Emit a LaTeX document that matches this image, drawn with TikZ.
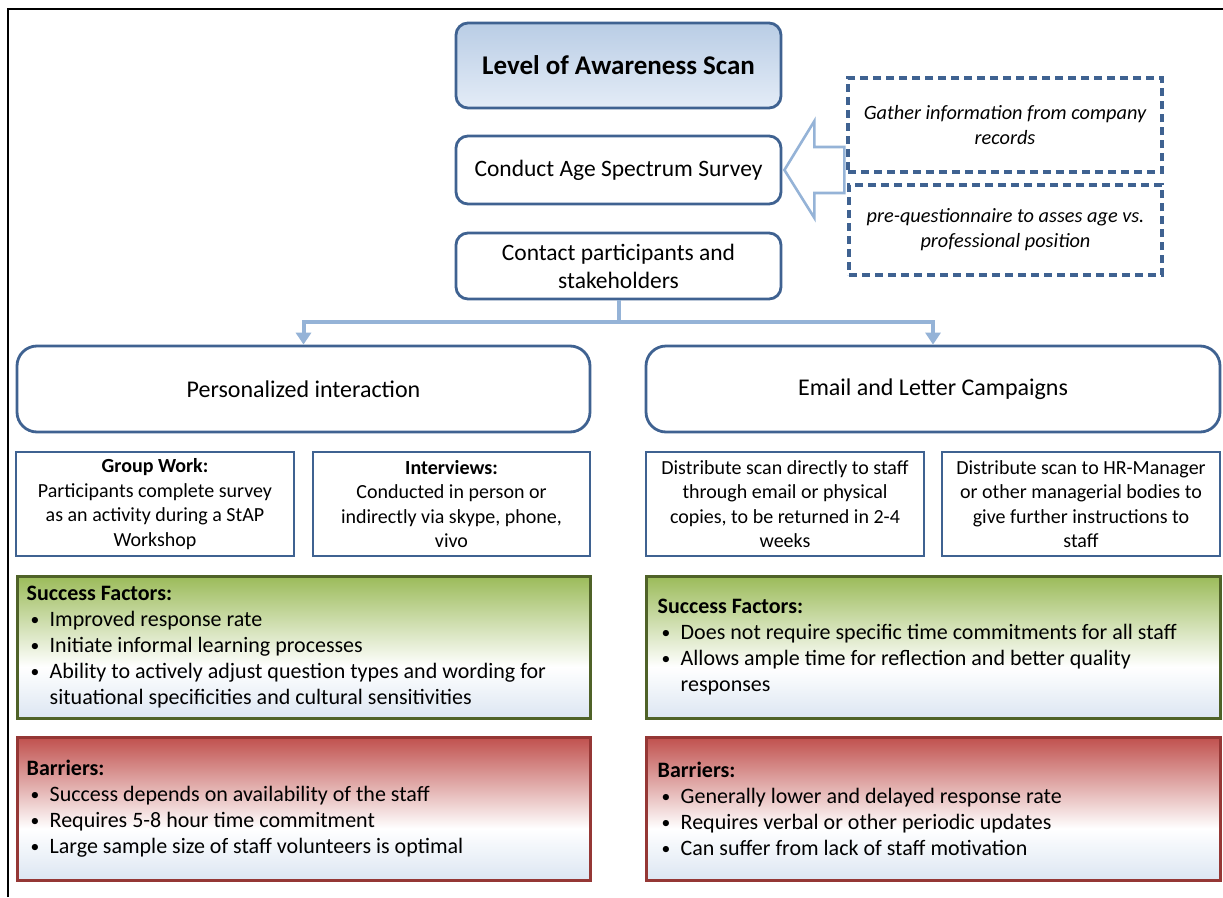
\documentclass[tikz,border=0pt]{standalone}
\usepackage{fontspec}
\setmainfont{Carlito}
\usetikzlibrary{arrows.meta,calc}

\definecolor{boxblue}{HTML}{3F6291}
\definecolor{connblue}{HTML}{95B3D7}
\definecolor{ttop}{HTML}{B9CDE5}
\definecolor{tbot}{HTML}{E4ECF7}
\definecolor{fadeblue}{HTML}{DCE6F2}
\definecolor{sfgreen}{HTML}{9BBB59}
\definecolor{sfborder}{HTML}{4F6228}
\definecolor{brred}{HTML}{C0504D}
\definecolor{brborder}{HTML}{953735}

\pgfdeclareverticalshading{titlefade}{100bp}{color(0bp)=(tbot); color(25bp)=(tbot); color(75bp)=(ttop); color(100bp)=(ttop)}
\pgfdeclareverticalshading{greenfade}{100bp}{color(0bp)=(fadeblue); color(25bp)=(fadeblue); color(43bp)=(white); color(75bp)=(sfgreen); color(100bp)=(sfgreen)}
\pgfdeclareverticalshading{redfade}{100bp}{color(0bp)=(fadeblue); color(25bp)=(fadeblue); color(43bp)=(white); color(75bp)=(brred); color(100bp)=(brred)}

\newcommand\bul[1]{\hspace*{4pt}\makebox[19pt][l]{\raisebox{0.5pt}{\scalebox{0.8}{\textbullet}}}#1}
\newcommand\cont[1]{\hspace*{23pt}#1}

\tikzset{
  base/.style={inner sep=0pt, align=center, text=black},
  stepbox/.style={base, draw=boxblue, line width=2.8pt, rounded corners=12pt, fill=white,
    minimum width=325pt, font=\fontsize{23.5}{28}\selectfont},
  titlebox/.style={stepbox, shading=titlefade, font=\fontsize{27}{32}\selectfont\bfseries},
  notebox/.style={base, draw=boxblue, line width=3.2pt, dash pattern=on 8pt off 5pt,
    fill=white, font=\fontsize{20.3}{25}\selectfont\itshape},
  branchbox/.style={base, draw=boxblue, line width=2.8pt, rounded corners=20pt, fill=white,
    minimum height=86pt, font=\fontsize{24}{28}\selectfont},
  methodbox/.style={base, draw=boxblue, line width=2.6pt, fill=white,
    minimum width=278pt, minimum height=104pt, font=\fontsize{20}{24.5}\selectfont},
  sfbox/.style={base, draw=sfborder, line width=3pt, shading=greenfade},
  brbox/.style={base, draw=brborder, line width=3pt, shading=redfade},
  listtext/.style={inner sep=0pt, align=left, anchor=west, font=\fontsize{22}{26}\selectfont},
  conn/.style={draw=connblue, line width=4pt, -{Triangle[length=12pt,width=15pt]}},
  hollow/.style={draw=connblue, line width=2.6pt, fill=white, line join=miter}
}

\begin{document}
\begin{tikzpicture}[x=1pt, y=-1pt]
  \useasboundingbox (0,0) rectangle (1223,897);
  \fill[white] (0,0) rectangle (1223,897);

  % page frame
  \draw[line width=2.6pt, line join=miter] (8,897) -- (8,9) -- (1223,9);

  % central column
  \node[titlebox, minimum height=85pt] (scan) at (618.5,65.5) {Level of Awareness Scan};
  \node[stepbox, minimum height=68pt] (survey) at (618.5,170) {Conduct Age Spectrum Survey};
  \node[stepbox, minimum height=66pt] (contact) at (618.5,266) {Contact participants and\\stakeholders};

  % input notes
  \node[notebox, minimum width=314pt, minimum height=94pt] (records) at (1005,125)
    {Gather information from company\\records};
  \node[notebox, minimum width=313pt, minimum height=90pt] (prequest) at (1005.5,230)
    {pre-questionnaire to asses age vs.\\professional position};

  % hollow block arrow into the survey step
  \draw[hollow] ($(survey.east)+(2,0)$) -- ++(30,-49) -- ++(0,26) -- ++(30,0)
    -- ++(0,46) -- ++(-30,0) -- ++(0,25) -- cycle;

  % two approaches
  \node[branchbox, minimum width=573pt] (pers) at (303.5,389) {Personalized interaction};
  \node[branchbox, minimum width=574pt] (email) at (933,389) {Email and Letter Campaigns};

  \coordinate (split) at (618.5,322);
  \draw[draw=connblue, line width=4pt] (contact.south) -- (split);
  \draw[conn] (split) -| (pers.north);
  \draw[conn] (split) -| (email.north);

  % methods
  \node[methodbox] (group) at (155,504)
    {\textbf{Group Work:}\\Participants complete survey\\as an activity during a StAP\\Workshop};
  \node[methodbox, minimum width=277pt] (interv) at (451.5,504)
    {\textbf{Interviews:}\\Conducted in person or\\indirectly via skype, phone,\\vivo};
  \node[methodbox] (dist1) at (785,504)
    {Distribute scan directly to staff\\through email or physical\\copies, to be returned in 2-4\\weeks};
  \node[methodbox] (dist2) at (1081,504)
    {Distribute scan to HR-Manager\\or other managerial bodies to\\give further instructions to\\staff};

  % success factors
  \node[sfbox, minimum width=573pt, minimum height=142pt] (sfl) at (303.5,647) {};
  \node[listtext] (sfltxt) at ($(sfl.west)+(11,0)$)
    {\textbf{Success Factors:}\\
     \bul{Improved response rate}\\
     \bul{Initiate informal learning processes}\\
     \bul{Ability to actively adjust question types and wording for}\\
     \cont{situational specificities and cultural sensitivities}};
  \node[sfbox, minimum width=574pt, minimum height=142pt] (sfr) at (933,647) {};
  \node[listtext] (sfrtxt) at ($(sfr.west)+(13,0)$)
    {\textbf{Success Factors:}\\
     \bul{Does not require specific time commitments for all staff}\\
     \bul{Allows ample time for reflection and better quality}\\
     \cont{responses}};

  % barriers
  \node[brbox, minimum width=573pt, minimum height=143pt] (brl) at (303.5,808.5) {};
  \node[listtext] (brltxt) at ($(brl.west)+(11,0)$)
    {\textbf{Barriers:}\\
     \bul{Success depends on availability of the staff}\\
     \bul{Requires 5-8 hour time commitment}\\
     \bul{Large sample size of staff volunteers is optimal}};
  \node[brbox, minimum width=574pt, minimum height=143pt] (brr) at (933,808.5) {};
  \node[listtext] (brrtxt) at ($(brr.west)+(13,0)$)
    {\textbf{Barriers:}\\
     \bul{Generally lower and delayed response rate}\\
     \bul{Requires verbal or other periodic updates}\\
     \bul{Can suffer from lack of staff motivation}};
\end{tikzpicture}
\end{document}
